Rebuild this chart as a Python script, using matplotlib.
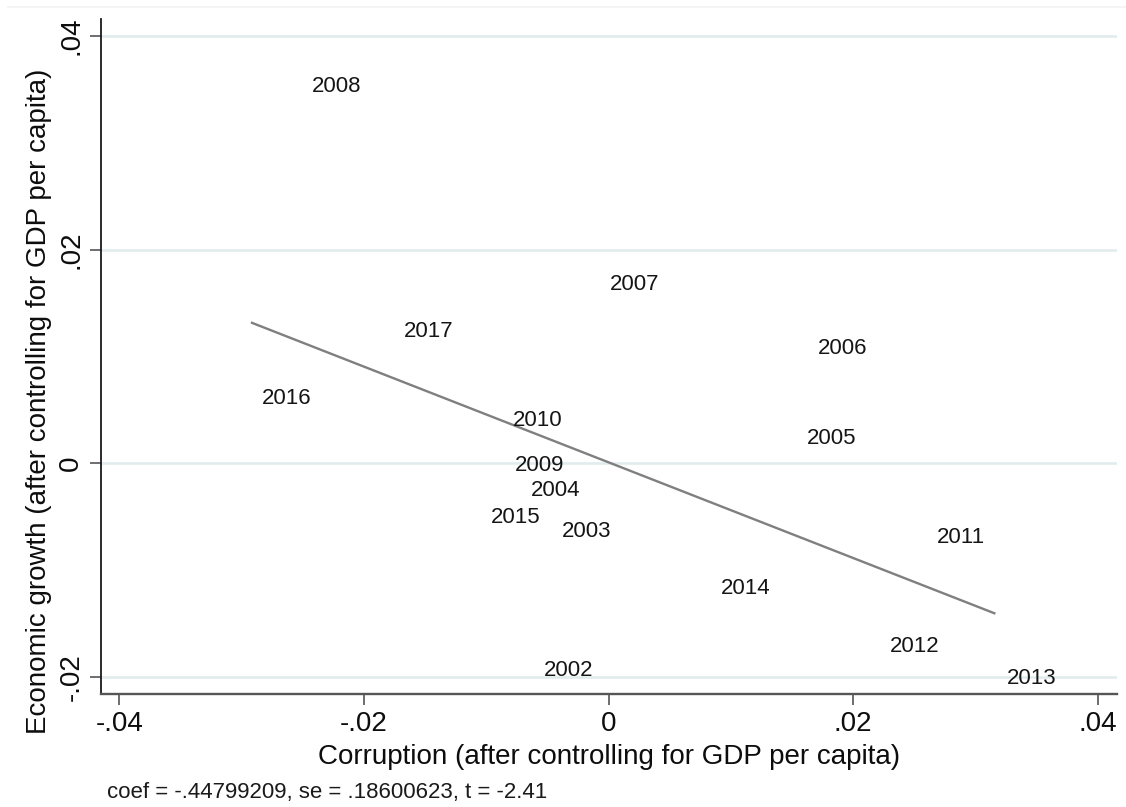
import matplotlib
matplotlib.use("Agg")
import matplotlib.pyplot as plt
from matplotlib.lines import Line2D
import numpy as np

# ---- data (added-variable plot residuals) ----
years = ["2008", "2007", "2017", "2006", "2016", "2010", "2005", "2009",
         "2004", "2015", "2003", "2011", "2014", "2012", "2002", "2013"]
corruption_resid = [-0.02520, -0.00078, -0.01764, 0.01619, -0.02924, -0.00874,
                    0.01533, -0.00855, -0.00725, -0.01054, -0.00473, 0.02591,
                    0.00831, 0.02209, -0.00618, 0.03164]
growth_resid = [0.03546, 0.01694, 0.01251, 0.01094, 0.00626, 0.00423,
                0.00251, 0.00002, -0.00232, -0.00492, -0.00616, -0.00676,
                -0.01157, -0.01700, -0.01919, -0.02000]
coef = -0.44799209
se = 0.18600623
tstat = -2.41

xticks = [-0.04, -0.02, 0, 0.02, 0.04]
xticklabels = ["-.04", "-.02", "0", ".02", ".04"]
yticks = [-0.02, 0, 0.02, 0.04]
yticklabels = ["-.02", "0", ".02", ".04"]

plt.rcParams['font.family'] = ['Liberation Sans', 'DejaVu Sans']

W, H = 1126, 807
fig = plt.figure(figsize=(W / 100, H / 100), dpi=100)
fig.patch.set_facecolor("white")

ax = fig.add_axes([101 / W, 1 - 694 / H, (1117 - 101) / W, (694 - 19) / H])
ax.set_facecolor("white")

ax.set_xlim(-0.04150, 0.04158)
ax.set_ylim(-0.02162, 0.04159)

# gridlines
for yv in yticks:
    ax.axhline(yv, color="#e1eaec", lw=1.8, zorder=0)

# fitted line
xs = np.array(corruption_resid)
ys = np.array(growth_resid)
intercept = ys.mean() - coef * xs.mean()
xl = np.array([xs.min(), xs.max()])
ax.plot(xl, intercept + coef * xl, color="#7f7f7f", lw=1.7, zorder=2,
        solid_capstyle="butt")

# labels (markers invisible)
ax.scatter(xs, ys, s=0)
for lab, x, y in zip(years, corruption_resid, growth_resid):
    ax.annotate(lab, (x, y), xytext=(8, -1.6), textcoords="offset points",
                ha="left", va="center", fontsize=16, color="#151515", zorder=3)

# axes styling
for s in ["top", "right"]:
    ax.spines[s].set_visible(False)
ax.spines["left"].set_color("#1a1a1a")
ax.spines["left"].set_linewidth(1.3)
ax.spines["bottom"].set_color("#555555")
ax.spines["bottom"].set_linewidth(1.7)

ax.set_xticks(xticks)
ax.set_xticklabels(xticklabels)
ax.set_yticks(yticks)
ax.set_yticklabels(yticklabels)
ax.tick_params(axis="x", length=8, width=1.2, color="#555555", pad=4,
               labelsize=20, labelcolor="#0d0d0d")
ax.tick_params(axis="y", length=8, width=1.2, color="#555555", pad=4,
               labelsize=20, labelcolor="#0d0d0d", labelrotation=90)
for lbl in ax.get_yticklabels():
    lbl.set_va("center")

# axis titles
fig.text(609 / W, 1 - 764 / H, "Corruption (after controlling for GDP per capita)",
         ha="center", va="baseline", fontsize=20, color="#0d0d0d")
fig.text(39 / W, 1 - 401 / H, "Economic growth (after controlling for GDP per capita)",
         ha="center", va="center", rotation=90, fontsize=20, color="#0d0d0d")

# footnote
foot = ("coef = %.8f, se = %.8f, t = %.2f" % (coef, se, tstat))
foot = foot.replace("-0.", "-.").replace(" 0.", " .")
fig.text(107 / W, 1 - 798 / H, foot,
         ha="left", va="baseline", fontsize=16, color="#1a1a1a")

# faint outer frame line at top
fig.add_artist(Line2D([8 / W, 1.0], [1 - 7 / H, 1 - 7 / H],
                      transform=fig.transFigure, color="#f2f2f2", lw=1.2))

fig.savefig("out.png", dpi=100, facecolor="white")
